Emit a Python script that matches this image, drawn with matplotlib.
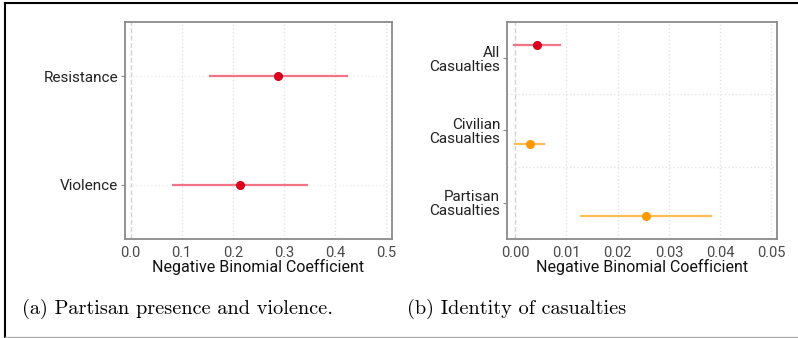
import numpy as np
import matplotlib.pyplot as plt
from matplotlib.lines import Line2D

## DATA ----------------
a_labels = ['Violence', 'Resistance']
a_coef = [0.214, 0.289]
a_low = [0.082, 0.154]
a_high = [0.348, 0.426]

b_labels = ['Partisan\nCasualties', 'Civilian\nCasualties', 'All\nCasualties']
b_coef = [0.0256, 0.0029, 0.0042]
b_low = [0.0128, 0.0000, -0.0003]
b_high = [0.0383, 0.0057, 0.0088]
b_model = ['orange', 'orange', 'red']   # which model each estimate comes from

a_ticks = [0.0, 0.1, 0.2, 0.3, 0.4, 0.5]
b_ticks = [0.00, 0.01, 0.02, 0.03, 0.04, 0.05]

RED_PT, RED_LN = '#d8001c', '#f27585'
ORG_PT, ORG_LN = '#ff9800', '#ffbe55'

plt.rcParams['font.family'] = ['Roboto', 'DejaVu Sans']

fig = plt.figure(figsize=(7.98, 3.38), dpi=100)
W, H = 798, 338

def px_axes(l, t, r, b):
    return fig.add_axes([l / W, 1 - b / H, (r - l) / W, (b - t) / H])

def style(ax, ticks, fmt):
    for s in ax.spines.values():
        s.set_color('#8a8a8a')
        s.set_linewidth(1.3)
    ax.set_xticks(ticks)
    ax.set_xticklabels([fmt.format(t) for t in ticks], color='#4a4a4a', fontsize=10.5)
    ax.tick_params(axis='x', length=0, pad=5)
    ax.tick_params(axis='y', length=3, color='#8a8a8a', labelsize=11, labelcolor='#222222', pad=2)
    ax.grid(True, axis='x', color='#e4e4e4', linestyle=':', linewidth=1.0)
    ax.axvline(0, color='#d0d0d0', linestyle='--', linewidth=1.0, zorder=1)
    ax.set_xlabel('Negative Binomial Coefficient', fontsize=11.5, color='#111111', labelpad=-1)

## 1. Panel (a) ----------------
ax1 = px_axes(125, 22, 392, 239)
ya = np.arange(1, len(a_labels) + 1)
ax1.hlines(ya, 0.0 - 0.011, 0.512, color='#efefef', linestyle=':', linewidth=1.0, zorder=1)
ax1.hlines(ya, a_low, a_high, color=RED_LN, linewidth=1.6, zorder=3)
ax1.plot(a_coef, ya, 'o', color=RED_PT, markersize=5.5, zorder=4)
ax1.set_yticks(ya)
ax1.set_yticklabels(a_labels)
ax1.set_xlim(-0.011, 0.512)
ax1.set_ylim(0.5, 2.5)
style(ax1, a_ticks, '{:.1f}')

## 2. Panel (b) ----------------
ax2 = px_axes(507, 22, 777, 239)
yb = np.arange(1, len(b_labels) + 1)
offs = np.array([0.18 if m == 'red' else -0.18 for m in b_model])
for sep in [1.5, 2.5]:
    ax2.axhline(sep, color='#e6e6e6', linestyle=':', linewidth=1.0, zorder=1)
for y, o, c, lo, hi, m in zip(yb, offs, b_coef, b_low, b_high, b_model):
    pt, ln = (RED_PT, RED_LN) if m == 'red' else (ORG_PT, ORG_LN)
    ax2.plot([lo, hi], [y + o, y + o], color=ln, linewidth=1.6, zorder=3)
    ax2.plot(c, y + o, 'o', color=pt, markersize=5.5, zorder=4)
ax2.set_yticks(yb)
ax2.set_yticklabels(b_labels, linespacing=1.0)
ax2.set_xlim(-0.0016, 0.0511)
ax2.set_ylim(0.5, 3.5)
style(ax2, b_ticks, '{:.2f}')

## 3. Captions and frame ----------------
fig.text(22 / W, 1 - 309 / H, '(a) Partisan presence and violence.', family='cmr10',
         fontsize=14.6, va='center', ha='left')
fig.text(407 / W, 1 - 309 / H, '(b) Identity of casualties', family='cmr10',
         fontsize=14.6, va='center', ha='left')

fig.add_artist(Line2D([5 / W, 1], [1 - 2.5 / H, 1 - 2.5 / H], color='black', linewidth=1.5))
fig.add_artist(Line2D([5 / W, 5 / W], [1 - 2.5 / H, 1 - 336.5 / H], color='black', linewidth=1.5))
fig.add_artist(Line2D([5 / W, 1], [1 - 336.5 / H, 1 - 336.5 / H], color='#b0b0b0', linewidth=1.0))

fig.savefig('out.png', dpi=100)
